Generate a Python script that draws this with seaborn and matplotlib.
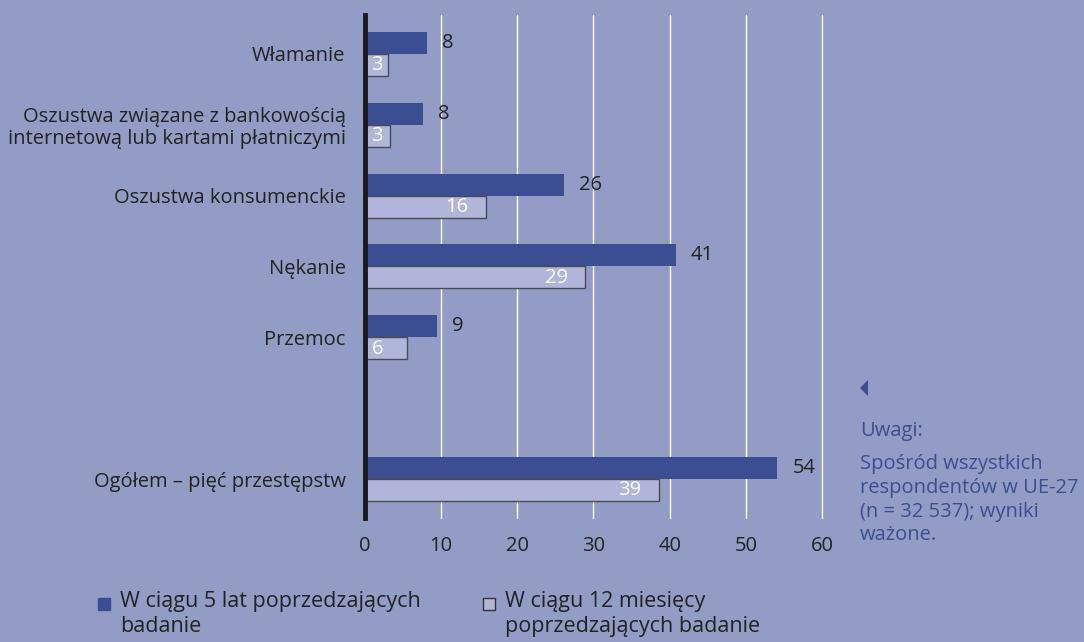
import numpy as np
import pandas as pd
import seaborn as sns
import matplotlib.pyplot as plt
from matplotlib.patches import Rectangle, Polygon

# values (percent)
categories = [
    "Włamanie",
    "Oszustwa związane z bankowością\ninternetową lub kartami płatniczymi",
    "Oszustwa konsumenckie",
    "Nękanie",
    "Przemoc",
    "Ogółem – pięć przestępstw",
]
positions = [0, 1, 2, 3, 4, 6]  # blank row before the total
five_years = [8.1, 7.6, 26.1, 40.8, 9.4, 54.1]
twelve_months = [3.0, 3.3, 15.9, 28.9, 5.5, 38.6]
series_names = ["W ciągu 5 lat poprzedzających\nbadanie",
                "W ciągu 12 miesięcy\npoprzedzających badanie"]
xticks = [0, 10, 20, 30, 40, 50, 60]

bg = "#939cc4"
dark = "#3a4e91"
light = "#b2b5da"
txt = "#222222"
fs = 14.5

df = pd.concat([
    pd.DataFrame({"pos": positions, "value": five_years, "series": series_names[0]}),
    pd.DataFrame({"pos": positions, "value": twelve_months, "series": series_names[1]}),
])

sns.set_style("white")
plt.rcParams["font.family"] = ["Open Sans", "DejaVu Sans"]

fig = plt.figure(figsize=(10.84, 6.42), dpi=100, facecolor=bg)
ax = fig.add_axes([0.3367, 0.193, 0.4216, 0.784])
ax.set_facecolor(bg)

for x in xticks[1:]:
    ax.axvline(x, color="white", lw=1, zorder=0, clip_on=False)

sns.barplot(data=df, x="value", y="pos", hue="series", orient="h",
            native_scale=True, width=0.62, gap=0, palette=[dark, light],
            saturation=1, legend=False, ax=ax, zorder=2)

# edges and value labels
for i, cont in enumerate(ax.containers):
    for patch in cont:
        if i == 0:
            patch.set_linewidth(0)
        else:
            patch.set_edgecolor("#4a4a55")
            patch.set_linewidth(1.0)
for p, v in zip(positions, five_years):
    ax.text(v + 2.0, p - 0.155, f"{round(v)}", ha="left", va="center",
            fontsize=fs, color=txt)
for p, v in zip(positions, twelve_months):
    ax.text(max(v - 3.8, 1.6), p + 0.16, f"{round(v)}", ha="center", va="center",
            fontsize=fs, color="white")

ax.set_xlim(0, 60)
ax.set_ylim(6.55, -0.55)
ax.set_xticks(xticks)
ax.set_yticks(positions)
ax.set_yticklabels(categories, fontsize=fs, color=txt, linespacing=1.1)
ax.tick_params(axis="x", labelsize=fs, colors=txt, length=0, pad=13)
ax.tick_params(axis="y", length=0, pad=14)
ax.set_xlabel("")
ax.set_ylabel("")
for s in ["top", "right", "bottom"]:
    ax.spines[s].set_visible(False)
ax.spines["left"].set_linewidth(3.5)
ax.spines["left"].set_color("#1a1a1a")
ax.spines["left"].set_zorder(5)

# legend below the chart
W, H = 1084, 642
fig.add_artist(Rectangle((98 / W, 1 - 610 / H), 12 / W, 12 / H,
                         transform=fig.transFigure, facecolor=dark, edgecolor=dark))
fig.text(120 / W, 1 - 591 / H, series_names[0], ha="left", va="top",
         fontsize=15.5, color=txt, linespacing=1.25)
fig.add_artist(Rectangle((483 / W, 1 - 610 / H), 12 / W, 12 / H,
                         transform=fig.transFigure, facecolor=light, edgecolor="#333333",
                         lw=1))
fig.text(505 / W, 1 - 591 / H, series_names[1], ha="left", va="top",
         fontsize=15.5, color=txt, linespacing=1.25)

# notes on the right
fig.add_artist(Polygon([(860 / W, 1 - 388 / H), (868 / W, 1 - 380 / H),
                        (868 / W, 1 - 396 / H)], closed=True,
                       transform=fig.transFigure, facecolor=dark, edgecolor="none"))
fig.text(860 / W, 1 - 431 / H, "Uwagi:", ha="left", va="center",
         fontsize=fs, color=dark)
fig.text(860 / W, 1 - 454 / H,
         "Spośród wszystkich\nrespondentów w UE-27\n(n = 32 537); wyniki\nważone.",
         ha="left", va="top", fontsize=fs, color=dark, linespacing=1.25)

fig.savefig("out.png", dpi=100, facecolor=bg)
